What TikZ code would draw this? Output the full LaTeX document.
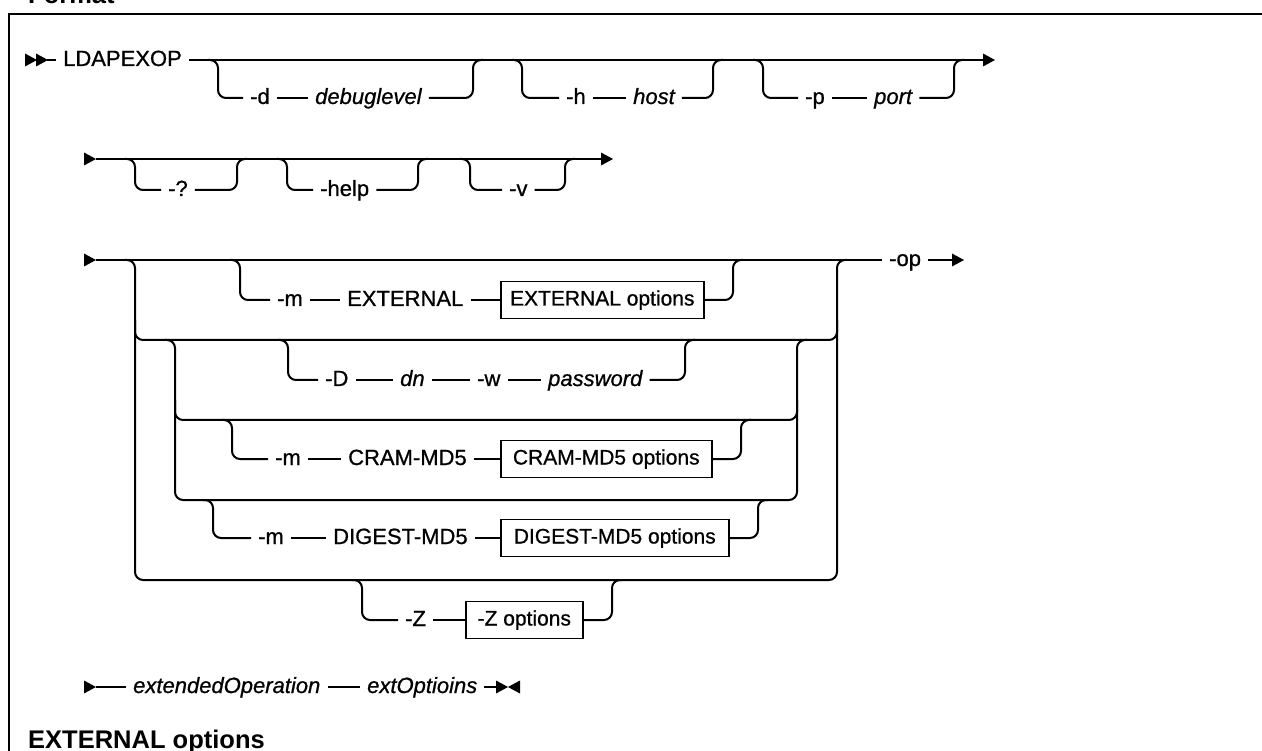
\documentclass[tikz,border=0pt]{standalone}
\usepackage{fontspec}
\setmainfont{Liberation Sans}
\newfontfamily\lblfont{Liberation Sans}[FakeBold=0.8]
\usetikzlibrary{calc}
\tikzset{
  conn/.style={line width=2pt, rounded corners=8pt},
  lbl/.style={font=\lblfont\fontsize{22}{26}\selectfont, inner xsep=7pt, inner ysep=0pt, text height=17pt, text depth=5pt, anchor=west},
  var/.style={lbl, font=\lblfont\fontsize{22}{26}\selectfont\itshape},
  optbox/.style={draw, line width=1.6pt, font=\lblfont\fontsize{21}{26}\selectfont, minimum height=37pt, inner xsep=0pt, inner ysep=0pt, text height=16pt, text depth=5pt, anchor=west},
  head/.style={font=\fontsize{25.5}{30}\selectfont\bfseries, inner sep=0pt, anchor=base west},
  rtri/.pic={\fill (0,-6.5) -- (12,0) -- (0,6.5) -- cycle;},
  ltri/.pic={\fill (0,-6.5) -- (-12,0) -- (0,6.5) -- cycle;},
}
\begin{document}
\begin{tikzpicture}[x=1pt,y=-1pt]
\useasboundingbox (0,0) rectangle (1262,751);
% frame and headings
\draw[line width=2.4pt] (9,770) -- (9,14) -- (1280,14);
\node[head] (fmt) at (28,4) {Format};
\node[head] (extopt) at (28,748) {EXTERNAL options};

% ---------------- Row 1 ----------------
\pic at (25,60) {rtri};
\pic at (36,60) {rtri};
\coordinate (r1s) at (47,60);
\node[lbl] (ldap) at (56,60) {LDAPEXOP};
\coordinate (r1end) at (983,60);
\draw[conn] (r1s) -- (ldap.west);
\draw[conn] (ldap.east) -- (r1end);
\pic at (r1end) {rtri};
% -d debuglevel
\coordinate (b1s) at (218,60); \coordinate (b1e) at (473,60);
\node[lbl] (d) at (243,98) {-d};
\node[var] (dbg) at (308,98) {debuglevel};
\draw[conn] ($(b1s)+(-10,0)$) -- (b1s) |- (d.west);
\draw[conn] (d.east) -- (dbg.west);
\draw[conn] (dbg.east) -| (b1e) -- ++(10,0);
% -h host
\coordinate (b2s) at (522,60); \coordinate (b2e) at (713,60);
\node[lbl] (h) at (559,98) {-h};
\node[var] (host) at (626,98) {host};
\draw[conn] ($(b2s)+(-10,0)$) -- (b2s) |- (h.west);
\draw[conn] (h.east) -- (host.west);
\draw[conn] (host.east) -| (b2e) -- ++(10,0);
% -p port
\coordinate (b3s) at (763,60); \coordinate (b3e) at (954,60);
\node[lbl] (p) at (798,98) {-p};
\node[var] (port) at (867,98) {port};
\draw[conn] ($(b3s)+(-10,0)$) -- (b3s) |- (p.west);
\draw[conn] (p.east) -- (port.west);
\draw[conn] (port.east) -| (b3e) -- ++(10,0);

% ---------------- Row 2 ----------------
\pic at (84,159) {rtri};
\coordinate (r2s) at (96,159);
\coordinate (r2end) at (601,159);
\draw[conn] (r2s) -- (r2end);
\pic at (r2end) {rtri};
\coordinate (b4s) at (135,159); \coordinate (b4e) at (237,159);
\node[lbl] (q) at (161,190) {-?};
\draw[conn] ($(b4s)+(-10,0)$) -- (b4s) |- (q.west);
\draw[conn] (q.east) -| (b4e) -- ++(10,0);
\coordinate (b5s) at (287,159); \coordinate (b5e) at (418,159);
\node[lbl] (help) at (313,190) {-help};
\draw[conn] ($(b5s)+(-10,0)$) -- (b5s) |- (help.west);
\draw[conn] (help.east) -| (b5e) -- ++(10,0);
\coordinate (b6s) at (470,159); \coordinate (b6e) at (565,159);
\node[lbl] (v) at (502,190) {-v};
\draw[conn] ($(b6s)+(-10,0)$) -- (b6s) |- (v.west);
\draw[conn] (v.east) -| (b6e) -- ++(10,0);

% ---------------- Row 3 ----------------
\pic at (84,260) {rtri};
\coordinate (r3s) at (96,260);
\node[lbl] (op) at (882,260) {-op};
\coordinate (r3end) at (952,260);
\draw[conn] (r3s) -- (op.west);
\draw[conn] (op.east) -- (r3end);
\pic at (r3end) {rtri};
% outer group
\coordinate (g0tl) at (135,260); \coordinate (g0tr) at (837,260);
\coordinate (g0bl) at (135,580); \coordinate (g0br) at (837,580);
\coordinate (g0ml) at (135,340); \coordinate (g0mr) at (837,340);
\draw[conn] ($(g0tl)+(-10,0)$) -- (g0tl) -- (g0bl) -- (g0br) -- (g0tr) -- ++(10,0);
\draw[conn] ($(g0ml)+(0,-20)$) -- (g0ml) -- (g0mr) -- ++(0,-20);
% EXTERNAL
\coordinate (b7s) at (240,260); \coordinate (b7e) at (733,260);
\node[lbl] (m1) at (270,300) {-m};
\node[lbl] (ext) at (340,300) {EXTERNAL};
\node[optbox, minimum width=203pt] (box1) at (500,300) {EXTERNAL options};
\draw[conn] ($(b7s)+(-10,0)$) -- (b7s) |- (m1.west);
\draw[conn] (m1.east) -- (ext.west);
\draw[conn] (ext.east) -- (box1.west);
\draw[conn] (box1.east) -| (b7e) -- ++(10,0);
% -D dn -w password
\coordinate (b8s) at (288,340); \coordinate (b8e) at (685,340);
\node[lbl] (D) at (318,380) {-D};
\node[var] (dn) at (393,380) {dn};
\node[lbl] (w) at (470,380) {-w};
\node[var] (pw) at (541,380) {password};
\draw[conn] ($(b8s)+(-10,0)$) -- (b8s) |- (D.west);
\draw[conn] (D.east) -- (dn.west);
\draw[conn] (dn.east) -- (w.west);
\draw[conn] (w.east) -- (pw.west);
\draw[conn] (pw.east) -| (b8e) -- ++(10,0);
% inner group
\coordinate (g1tl) at (175,340); \coordinate (g1tr) at (797,340);
\coordinate (g1bl) at (175,500); \coordinate (g1br) at (797,500);
\coordinate (g1ml) at (175,420); \coordinate (g1mr) at (797,420);
\draw[conn] ($(g1tl)+(-10,0)$) -- (g1tl) -- (g1bl) -- (g1br) -- (g1tr) -- ++(10,0);
\draw[conn] ($(g1ml)+(0,-20)$) -- (g1ml) -- (g1mr) -- ++(0,-20);
% CRAM-MD5
\coordinate (b9s) at (232,420); \coordinate (b9e) at (741,420);
\node[lbl] (m2) at (268,459) {-m};
\node[lbl] (cram) at (341,459) {CRAM-MD5};
\node[optbox, minimum width=211pt] (box2) at (500,459) {CRAM-MD5 options};
\draw[conn] ($(b9s)+(-10,0)$) -- (b9s) |- (m2.west);
\draw[conn] (m2.east) -- (cram.west);
\draw[conn] (cram.east) -- (box2.west);
\draw[conn] (box2.east) -| (b9e) -- ++(10,0);
% DIGEST-MD5
\coordinate (b10s) at (213,500); \coordinate (b10e) at (758,500);
\node[lbl] (m3) at (251,538) {-m};
\node[lbl] (dig) at (326,538) {DIGEST-MD5};
\node[optbox, minimum width=228pt] (box3) at (500,538) {DIGEST-MD5 options};
\draw[conn] ($(b10s)+(-10,0)$) -- (b10s) |- (m3.west);
\draw[conn] (m3.east) -- (dig.west);
\draw[conn] (dig.east) -- (box3.west);
\draw[conn] (box3.east) -| (b10e) -- ++(10,0);
% -Z
\coordinate (b11s) at (362,580); \coordinate (b11e) at (612,580);
\node[lbl] (z) at (398,620) {-Z};
\node[optbox, minimum width=117pt] (box4) at (465,620) {-Z options};
\draw[conn] ($(b11s)+(-10,0)$) -- (b11s) |- (z.west);
\draw[conn] (z.east) -- (box4.west);
\draw[conn] (box4.east) -| (b11e) -- ++(10,0);

% ---------------- Row 4 ----------------
\pic at (84,687) {rtri};
\coordinate (r4s) at (96,687);
\node[var] (eo) at (126,687) {extendedOperation};
\node[var] (xo) at (360,687) {extOptioins};
\coordinate (r4end) at (496,687);
\draw[conn] (r4s) -- (eo.west);
\draw[conn] (eo.east) -- (xo.west);
\draw[conn] (xo.east) -- (r4end);
\pic at (r4end) {rtri};
\pic at (520,687) {ltri};
\end{tikzpicture}
\end{document}
